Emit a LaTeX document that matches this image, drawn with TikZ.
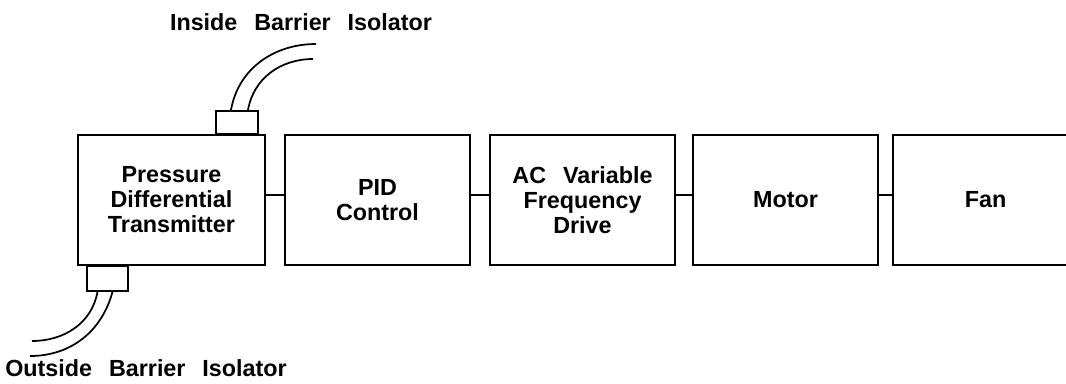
\documentclass[tikz,border=0pt]{standalone}
\usepackage{fontspec}
\setmainfont{Liberation Sans}[WordSpace=2.6]
\usetikzlibrary{calc}

\begin{document}
\begin{tikzpicture}[x=0.75pt, y=-0.75pt, line width=1.3pt,
    block/.style={rectangle, draw, align=center, minimum width=138.75pt, minimum height=97.5pt,
      font=\fontsize{17.5}{18.75}\selectfont\bfseries},
    isobox/.style={rectangle, draw, inner sep=0pt, minimum width=31pt, minimum height=17.5pt},
    tag/.style={inner sep=1pt, font=\fontsize{17.5}{18.75}\selectfont\bfseries}]
  \clip (0,0) rectangle (1066,383);

  \node[block, minimum width=140.25pt] (pdt) at (171.5,200) {Pressure\\Differential\\Transmitter};
  \node[block] (pid) at (377.5,200) {PID\\Control};
  \node[block] (acd) at (582.5,200) {AC Variable\\Frequency\\Drive};
  \node[block] (motor) at (785.5,200) {Motor};
  \node[block] (fan) at (985.5,200) {Fan};

  \draw ([yshift=3.75pt]pdt.east) -- ([yshift=3.75pt]pid.west);
  \draw ([yshift=3.75pt]pid.east) -- ([yshift=3.75pt]acd.west);
  \draw ([yshift=3.75pt]acd.east) -- ([yshift=3.75pt]motor.west);
  \draw ([yshift=3.75pt]motor.east) -- ([yshift=3.75pt]fan.west);

  \node[isobox, anchor=south] (inbar) at (237,135) {};
  \node[isobox, anchor=north, minimum height=18.75pt] (outbar) at (107.5,265) {};

  \coordinate (in1) at (316,44);
  \coordinate (in2) at (313,59);
  \coordinate (out1) at (32,341);
  \coordinate (out2) at (30,356);

  \draw ([xshift=-4.5pt]inbar.north) to[out=80, in=180] (in1);
  \draw ([xshift=8.25pt]inbar.north) to[out=80, in=180] (in2);
  \draw ([xshift=-7.5pt]outbar.south) to[out=-100, in=0] (out1);
  \draw ([xshift=3.75pt]outbar.south) to[out=-105, in=0] (out2);

  \node[tag] (intag) at (301,22) {Inside Barrier Isolator};
  \node[tag] (outtag) at (146,368) {Outside Barrier Isolator};
\end{tikzpicture}
\end{document}
